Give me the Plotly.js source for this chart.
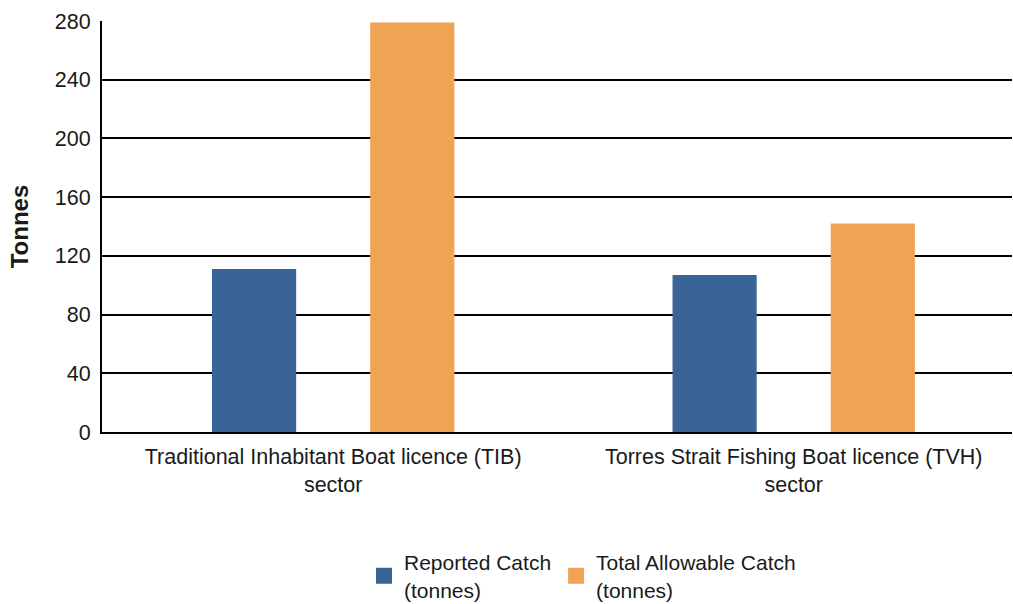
<!DOCTYPE html>
<html>
<head>
<meta charset="utf-8">
<script src="https://cdn.plot.ly/plotly-3.0.1.min.js"></script>
<style>html,body{margin:0;padding:0;background:#fff;}#chart{width:1013px;height:604px;}</style>
</head>
<body>
<div id="chart"></div>
<script>
const categories = ["Traditional Inhabitant Boat licence (TIB)<br>sector", "Torres Strait Fishing Boat licence (TVH)<br>sector"];
const reportedCatch = [111, 107];
const totalAllowableCatch = [279, 142];
const seriesNames = ["Reported Catch<br>(tonnes)", "Total Allowable Catch<br>(tonnes)"];
const seriesColors = ["#3A6496", "#F0A354"];
const yTicks = [0, 40, 80, 120, 160, 200, 240, 280];

const FAM = "Liberation Sans, Arial, sans-serif";
const font = {family: FAM, size: 21.5, color: "#1a1a1a"};

const traces = [
  {type: "bar", x: categories, y: reportedCatch, name: seriesNames[0], marker: {color: seriesColors[0]}, showlegend: false},
  {type: "bar", x: categories, y: totalAllowableCatch, name: seriesNames[1], marker: {color: seriesColors[1]}, showlegend: false},
  {type: "scatter", mode: "markers", x: categories, y: [null, null], name: seriesNames[0], marker: {color: seriesColors[0], symbol: "square", size: 16}, showlegend: true},
  {type: "scatter", mode: "markers", x: categories, y: [null, null], name: seriesNames[1], marker: {color: seriesColors[1], symbol: "square", size: 16}, showlegend: true}
];

const layout = {
  width: 1013, height: 604,
  margin: {l: 102, r: 1, t: 21, b: 172, autoexpand: false},
  paper_bgcolor: "#fff", plot_bgcolor: "#fff",
  font: font,
  barmode: "group", bargap: 0.313, bargroupgap: 0.468,
  showlegend: true,
  legend: {orientation: "h", x: 0.528, xanchor: "center", y: -0.433, yanchor: "bottom", font: {family: FAM, size: 21, color: "#1a1a1a"}, itemsizing: "trace", traceorder: "normal"},
  xaxis: {type: "category", range: [-0.502, 1.474], showline: true, linecolor: "#000", linewidth: 2, showgrid: false, ticks: "", tickfont: font, fixedrange: true, ticklabelstandoff: 4},
  yaxis: {range: [0, 280], tickvals: yTicks, showline: true, linecolor: "#000", linewidth: 2, showgrid: true, gridcolor: "#000", gridwidth: 2, zeroline: false, ticks: "", tickfont: font, ticklabelstandoff: 5,
    title: {text: "<b>Tonnes</b>", font: {family: FAM, size: 24, color: "#1a1a1a"}, standoff: 19}}
};

Plotly.newPlot("chart", traces, layout, {displayModeBar: false, staticPlot: true});
</script>
</body>
</html>
